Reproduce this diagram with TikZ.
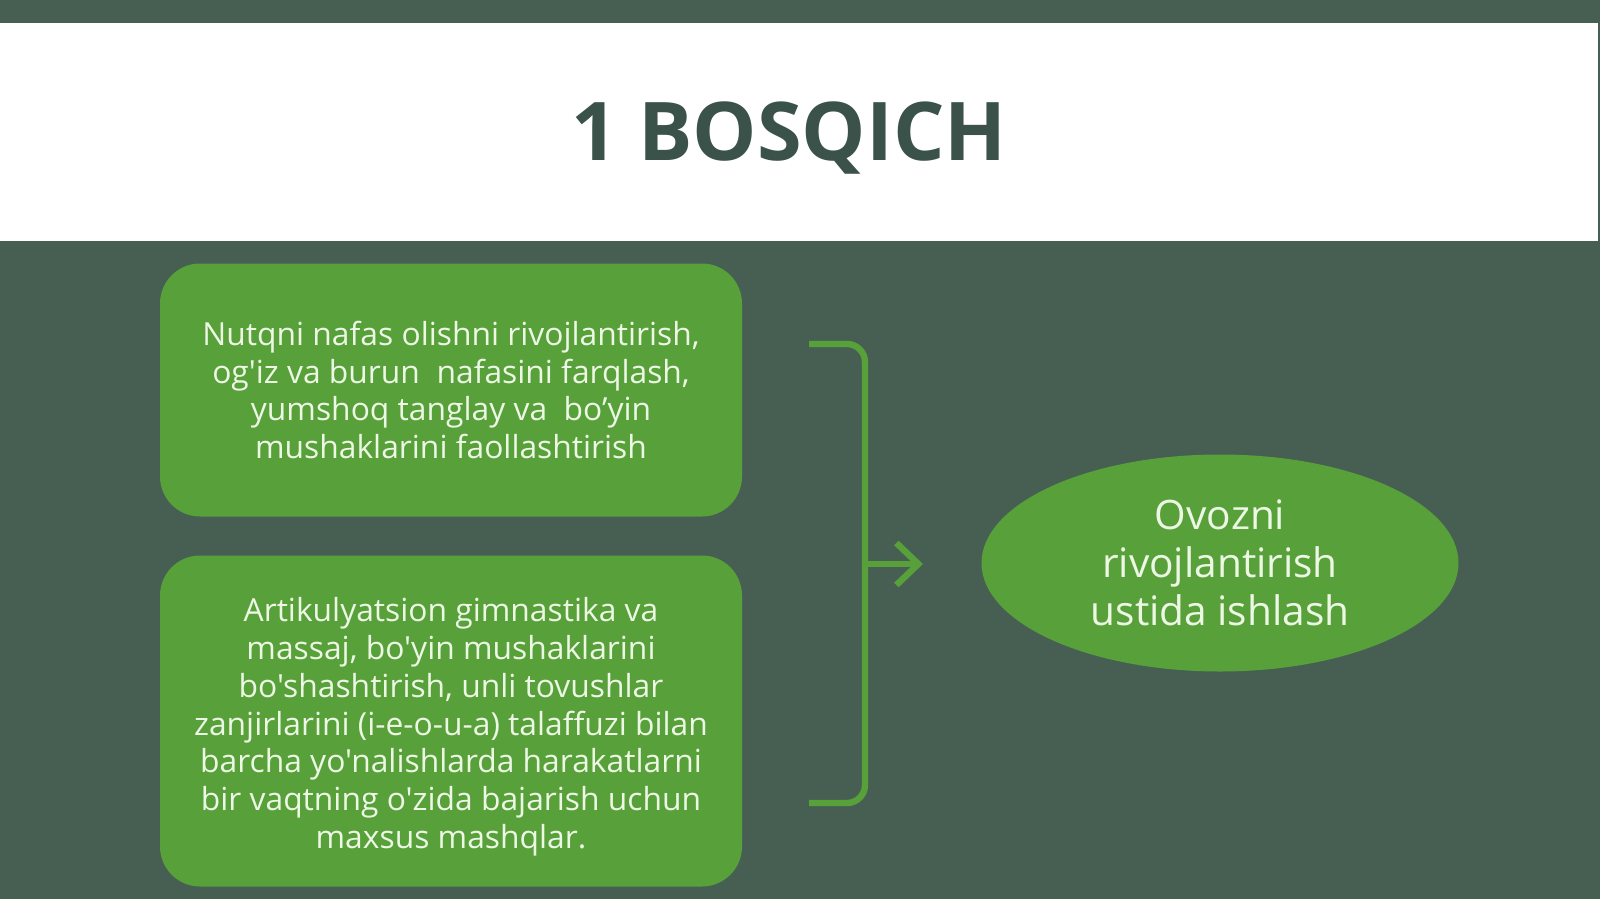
\documentclass[tikz,border=0pt]{standalone}
\usepackage{fontspec}
\setmainfont{Open Sans}[Ligatures=TeXOff]
\usetikzlibrary{shapes.geometric,arrows.meta}
\definecolor{bgdark}{HTML}{475F52}
\definecolor{boxgreen}{HTML}{58A03A}
\definecolor{txtlight}{HTML}{ECF7E4}
\definecolor{titlecol}{HTML}{3B524A}
\tikzset{
  greenbox/.style={draw=none, fill=boxgreen, rounded corners=20pt, minimum width=291pt, align=center, text=txtlight, font=\fontsize{15.9}{18.9}\selectfont},
  greenoval/.style={ellipse, draw=none, fill=boxgreen, minimum width=238.5pt, minimum height=108.5pt, inner sep=0pt, align=center, text=txtlight, font=\fontsize{20.3}{24}\selectfont},
  bracketline/.style={draw=boxgreen, line width=3.2pt},
}
\begin{document}
\begin{tikzpicture}[x=0.5pt,y=-0.5pt]
\useasboundingbox (0,0) rectangle (1600,899);
\fill[bgdark] (0,0) rectangle (1600,899);
\fill[white] (0,23.5) rectangle (1598,241);
\node[font=\fontsize{40.5}{48}\selectfont\bfseries, text=titlecol] (title) at (789,138) {1 BOSQICH};
\node[greenbox, minimum height=126.5pt] (b1) at (451,390) {Nutqni nafas olishni rivojlantirish,\\og'iz va burun\ \ nafasini farqlash,\\yumshoq tanglay va\ \ bo’yin\\mushaklarini faollashtirish};
\node[greenbox, minimum height=165.5pt] (b2) at (451,721) {\rule{0pt}{18pt}Artikulyatsion gimnastika va\\massaj, bo'yin mushaklarini\\bo'shashtirish, unli tovushlar\\zanjirlarini (i-e-o-u-a) talaffuzi bilan\\barcha yo'nalishlarda harakatlarni\\bir vaqtning o'zida bajarish uchun\\maxsus mashqlar.};
\node[greenoval] (ov) at (1220,563) {Ovozni\\rivojlantirish\\ustida ishlash};
\coordinate (btop) at (809,344);
\coordinate (bbot) at (809,803);
\coordinate (bmid) at (865,564);
\draw[bracketline, rounded corners=9pt] (btop) -- (865,344) -- (865,803) -- (bbot);
\draw[bracketline, -{Straight Barb[length=11pt,width=21pt,line width=3.2pt]}] (bmid) -- (923,564);
\end{tikzpicture}
\end{document}
